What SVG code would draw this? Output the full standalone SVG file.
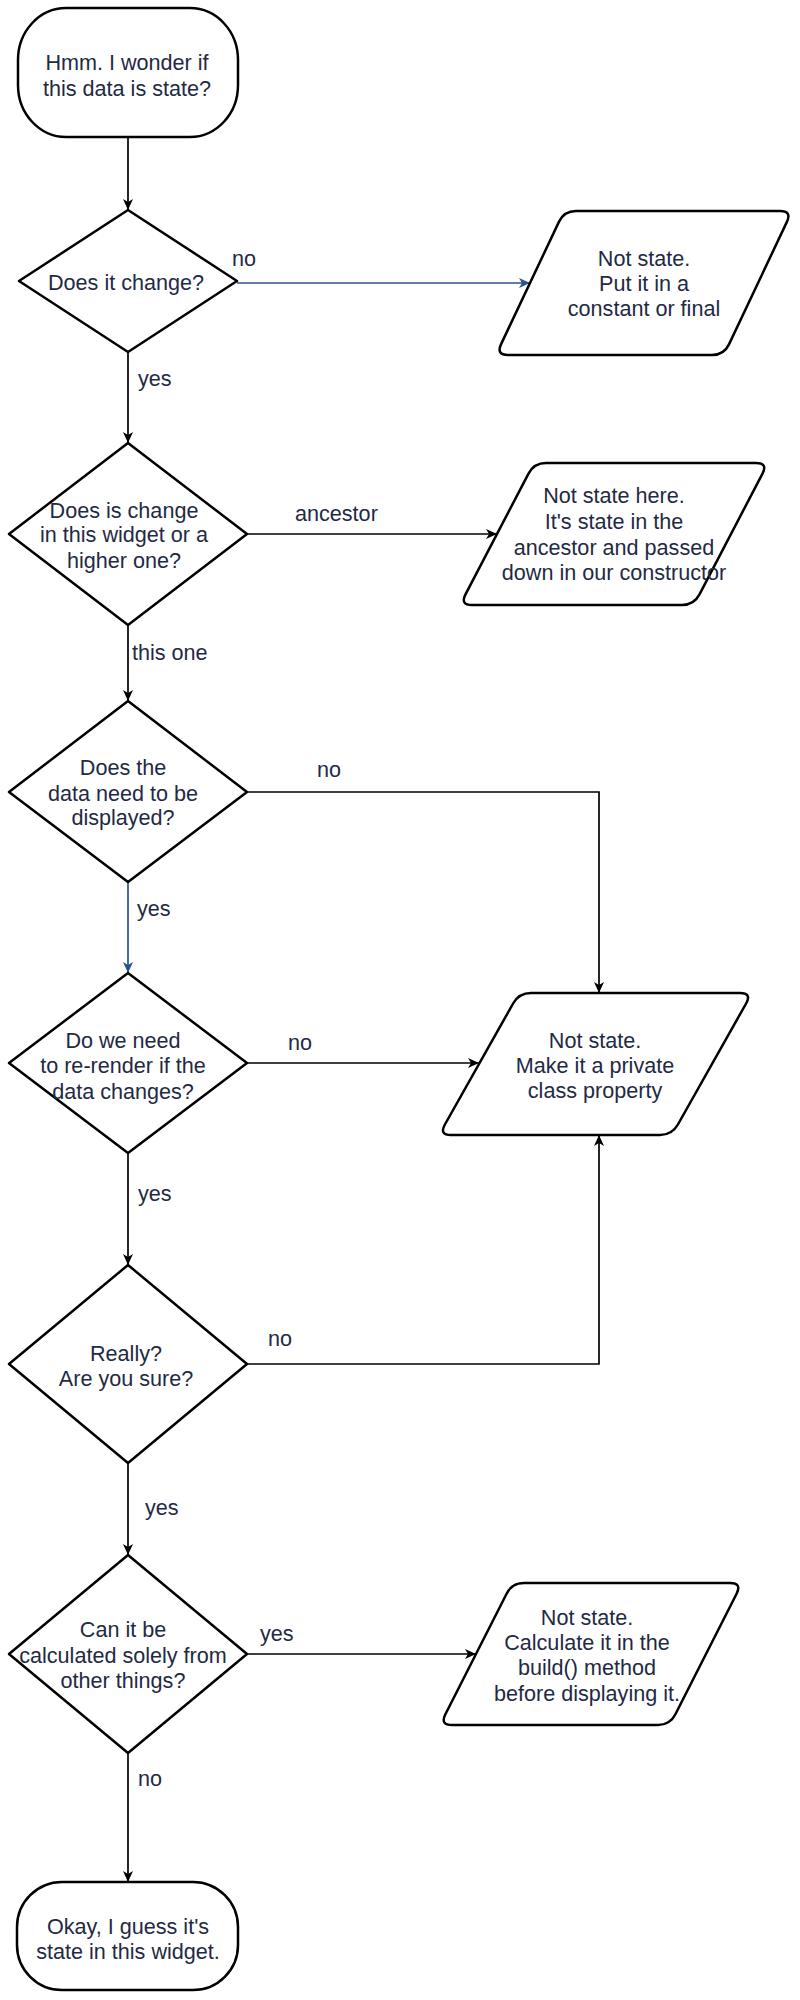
<svg xmlns="http://www.w3.org/2000/svg" width="800" height="2000" viewBox="0 0 800 2000">
<style>
.shape{fill:#fff;stroke:#000;stroke-width:2.5;stroke-linejoin:round}
.t{font-family:"Liberation Sans",Arial,Helvetica,sans-serif;font-size:21.6px;fill:#1f2a44;text-anchor:middle}
.l{font-family:"Liberation Sans",Arial,Helvetica,sans-serif;font-size:21.6px;fill:#1f2a44}
.c{fill:none;stroke:#000;stroke-width:1.7}
.cb{fill:none;stroke:#2a5190;stroke-width:1.7}
</style>
<defs>
<marker id="ah" markerUnits="userSpaceOnUse" markerWidth="12" markerHeight="10" refX="11" refY="5" orient="auto">
<path d="M0,0 L11,5 L0,10 L3,5 Z" fill="#000"/>
</marker>
<marker id="ahb" markerUnits="userSpaceOnUse" markerWidth="12" markerHeight="10" refX="11" refY="5" orient="auto">
<path d="M0,0 L11,5 L0,10 L3,5 Z" fill="#2a5190"/>
</marker>
</defs>
<rect width="800" height="2000" fill="#fff"/>
<g id="connectors">
<line class="c" x1="128" y1="137" x2="128" y2="210" marker-end="url(#ah)"/>
<line class="cb" x1="237" y1="283" x2="530" y2="283" marker-end="url(#ahb)"/>
<line class="c" x1="128" y1="352" x2="128" y2="443" marker-end="url(#ah)"/>
<line class="c" x1="247" y1="534" x2="497" y2="534" marker-end="url(#ah)"/>
<line class="c" x1="128" y1="625" x2="128" y2="701" marker-end="url(#ah)"/>
<polyline class="c" points="247,792 599,792 599,993" marker-end="url(#ah)"/>
<line class="cb" x1="128" y1="882" x2="128" y2="973" marker-end="url(#ahb)"/>
<line class="c" x1="247" y1="1063" x2="479" y2="1063" marker-end="url(#ah)"/>
<line class="c" x1="128" y1="1153" x2="128" y2="1265" marker-end="url(#ah)"/>
<polyline class="c" points="247,1364 599,1364 599,1135" marker-end="url(#ah)"/>
<line class="c" x1="128" y1="1463" x2="128" y2="1555" marker-end="url(#ah)"/>
<line class="c" x1="247" y1="1654" x2="476" y2="1654" marker-end="url(#ah)"/>
<line class="c" x1="128" y1="1753" x2="128" y2="1882" marker-end="url(#ah)"/>
<text class="l" x="232" y="265.5">no</text>
<text class="l" x="138" y="385.5">yes</text>
<text class="l" x="295" y="520.5">ancestor</text>
<text class="l" x="132" y="659.5">this one</text>
<text class="l" x="317" y="776.5">no</text>
<text class="l" x="137" y="915.5">yes</text>
<text class="l" x="288" y="1049.5">no</text>
<text class="l" x="138" y="1200.5">yes</text>
<text class="l" x="268" y="1345.5">no</text>
<text class="l" x="145" y="1514.5">yes</text>
<text class="l" x="260" y="1640.5">yes</text>
<text class="l" x="138" y="1785.5">no</text>
</g>
<g id="start">
<rect class="shape" x="18" y="8" width="220" height="129" rx="48" ry="52"/>
<text class="t" x="127" y="69.5">Hmm. I wonder if</text>
<text class="t" x="127" y="95.5">this data is state?</text>
</g>
<g id="d1">
<polygon class="shape" points="128,210 237,281 128,352 19,281"/>
<text class="t" x="126" y="289.5">Does it change?</text>
</g>
<g id="p1">
<path class="shape" d="M 576,211 L 780,211 Q 792,211 786.9,221.9 L 729.1,344.1 Q 724,355 712,355 L 508,355 Q 496,355 501.1,344.1 L 558.9,221.9 Q 564,211 576,211 Z"/>
<text class="t" x="644" y="265.5">Not state.</text>
<text class="t" x="644" y="290.5">Put it in a</text>
<text class="t" x="644" y="315.5">constant or final</text>
</g>
<g id="d2">
<polygon class="shape" points="128,443 247,534 128,625 9,534"/>
<text class="t" x="124" y="517.5">Does is change</text>
<text class="t" x="124" y="541.5">in this widget or a</text>
<text class="t" x="124" y="567.5">higher one?</text>
</g>
<g id="p2">
<path class="shape" d="M 546,463 L 756,463 Q 768,463 762.5,473.6 L 699.5,594.4 Q 694,605 682,605 L 472,605 Q 460,605 465.5,594.4 L 528.5,473.6 Q 534,463 546,463 Z"/>
<text class="t" x="614" y="502.5">Not state here.</text>
<text class="t" x="614" y="528.5">It's state in the</text>
<text class="t" x="614" y="554.5">ancestor and passed</text>
<text class="t" x="614" y="579.5">down in our constructor</text>
</g>
<g id="d3">
<polygon class="shape" points="128,701 247,792 128,882 9,792"/>
<text class="t" x="123" y="774.5">Does the</text>
<text class="t" x="123" y="800.5">data need to be</text>
<text class="t" x="123" y="824.5">displayed?</text>
</g>
<g id="d4">
<polygon class="shape" points="128,973 247,1063 128,1153 9,1063"/>
<text class="t" x="123" y="1047.5">Do we need</text>
<text class="t" x="123" y="1072.5">to re-render if the</text>
<text class="t" x="123" y="1098.5">data changes?</text>
</g>
<g id="p3">
<path class="shape" d="M 531,993 L 740,993 Q 752,993 746.1,1003.5 L 677.9,1124.5 Q 672,1135 660,1135 L 451,1135 Q 439,1135 444.9,1124.5 L 513.1,1003.5 Q 519,993 531,993 Z"/>
<text class="t" x="595" y="1047.5">Not state.</text>
<text class="t" x="595" y="1072.5">Make it a private</text>
<text class="t" x="595" y="1097.5">class property</text>
</g>
<g id="d5">
<polygon class="shape" points="128,1265 247,1364 128,1463 9,1364"/>
<text class="t" x="126" y="1360.5">Really?</text>
<text class="t" x="126" y="1385.5">Are you sure?</text>
</g>
<g id="d6">
<polygon class="shape" points="128,1555 247,1654 128,1753 9,1654"/>
<text class="t" x="123" y="1636.5">Can it be</text>
<text class="t" x="123" y="1662.5">calculated solely from</text>
<text class="t" x="123" y="1687.5">other things?</text>
</g>
<g id="p4">
<path class="shape" d="M 524,1583 L 730,1583 Q 742,1583 736.6,1593.7 L 675.4,1714.3 Q 670,1725 658,1725 L 452,1725 Q 440,1725 445.4,1714.3 L 506.6,1593.7 Q 512,1583 524,1583 Z"/>
<text class="t" x="587" y="1624.5">Not state.</text>
<text class="t" x="587" y="1649.5">Calculate it in the</text>
<text class="t" x="587" y="1674.5">build() method</text>
<text class="t" x="587" y="1700.5">before displaying it.</text>
</g>
<g id="end">
<rect class="shape" x="17" y="1882" width="221" height="108" rx="45" ry="45"/>
<text class="t" x="128" y="1933.5">Okay, I guess it's</text>
<text class="t" x="128" y="1958.5">state in this widget.</text>
</g>
</svg>
